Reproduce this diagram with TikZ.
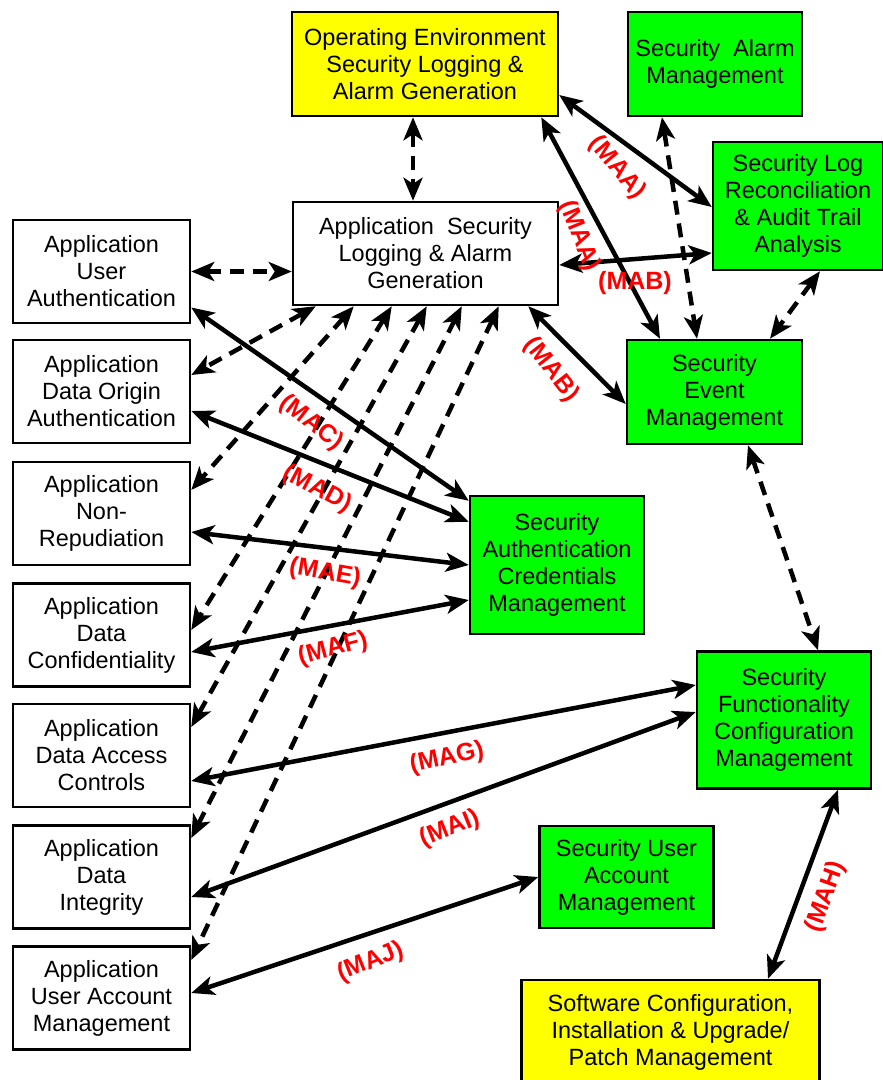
\documentclass[tikz,border=0pt]{standalone}
\usepackage{fontspec}
\setmainfont{Liberation Sans}
\usepackage{xcolor}
\usepackage{tikz}
\usetikzlibrary{arrows.meta}
\definecolor{sgreen}{RGB}{0,255,0}
\definecolor{syellow}{RGB}{255,255,0}
\definecolor{sred}{RGB}{255,0,0}
\tikzset{
  box/.style ={rectangle, draw=black, line width=2.5pt, fill=white,
               align=center, inner sep=2pt, font=\fontsize{23.5}{27}\selectfont},
  grn/.style ={box, fill=sgreen},
  ylw/.style ={box, fill=syellow},
  app/.style ={box, minimum width=177pt, minimum height=103pt},
  ar/.style  ={{Stealth[length=23pt,width=19pt,inset=6pt]}-{Stealth[length=23pt,width=19pt,inset=6pt]},
               line width=4.5pt},
  dar/.style ={ar, dash pattern=on 14pt off 9pt},
  lbl/.style ={font=\fontsize{25}{28}\selectfont\bfseries, text=sred, inner sep=0pt}
}
\begin{document}
\begin{tikzpicture}[x=1pt, y=-1pt]
\useasboundingbox (0,0) rectangle (883,1080);
% security management side
\node[ylw, minimum width=266pt, minimum height=104pt] (oe) at (425,64)
  {Operating Environment\\Security Logging \&\\Alarm Generation};
\node[grn, minimum width=174pt, minimum height=104pt] (sam) at (715,64)
  {Security\ \ Alarm\\Management};
\node[grn, minimum width=170pt, minimum height=128pt] (slr) at (798,206)
  {Security Log\\Reconciliation\\\& Audit Trail\\Analysis};
\node[box, minimum width=265pt, minimum height=103pt] (asl) at (425.5,253.5)
  {Application\ \ Security\\Logging \& Alarm\\Generation};
\node[grn, minimum width=175pt, minimum height=104pt] (sem) at (714.5,392)
  {Security\\Event\\Management};
\node[grn, minimum width=174pt, minimum height=138pt] (sacm) at (557,565)
  {Security\\Authentication\\Credentials\\Management};
\node[grn, minimum width=174pt, minimum height=137pt] (sfcm) at (784,720)
  {Security\\Functionality\\Configuration\\Management};
\node[grn, minimum width=174pt, minimum height=102pt] (suam) at (626.5,877)
  {Security User\\Account\\Management};
\node[ylw, minimum width=298pt, minimum height=104pt] (sw) at (670.5,1032)
  {Software Configuration,\\Installation \& Upgrade/\\Patch Management};
% application column
\node[app] (aua)  at (101.5,271.5) {Application\\User\\Authentication};
\node[app] (adoa) at (101.5,391.5) {Application\\Data Origin\\Authentication};
\node[app] (anr)  at (101.5,513.5) {Application\\Non-\\Repudiation};
\node[app] (adc)  at (101.5,635)   {Application\\Data\\Confidentiality};
\node[app] (adac) at (101.5,755.5) {Application\\Data Access\\Controls};
\node[app] (adi)  at (101.5,877)   {Application\\Data\\Integrity};
\node[app] (auam) at (101.5,998)   {Application\\User Account\\Management};
% dashed links
\draw[dar] ([xshift=-12pt]oe.south) -- ([xshift=-12.5pt]asl.north);
\draw[dar] (aua.east) -- (aua.east -| asl.west);
\draw[dar] ([xshift=-53pt]sam.south) -- ([xshift=-17.5pt]sem.north);
\draw[dar] ([xshift=22pt]slr.south) -- ([xshift=55.5pt]sem.north);
\draw[dar] ([xshift=33.5pt]sem.south) -- ([xshift=34pt]sfcm.north);
\draw[dar] ([xshift=24pt]asl.south west)  -- ([yshift=16.5pt]adoa.east);
\draw[dar] ([xshift=62pt]asl.south west)  -- ([yshift=23.5pt]anr.east);
\draw[dar] ([xshift=100pt]asl.south west) -- ([yshift=5pt]adc.east);
\draw[dar] ([xshift=135pt]asl.south west) -- ([yshift=28.5pt]adac.east);
\draw[dar] ([xshift=170pt]asl.south west) -- ([yshift=39pt]adi.east);
\draw[dar] ([xshift=207pt]asl.south west) -- ([yshift=38pt]auam.east);
% solid links
\draw[ar] ([yshift=-31pt]oe.east) -- ([yshift=-1pt]slr.west);
\draw[ar] ([xshift=-18pt]oe.south east) -- ([xshift=-54.5pt]sem.north);
\draw[ar] ([yshift=-11.5pt]asl.east) -- ([yshift=-47pt]slr.west);
\draw[ar] ([xshift=-31pt]asl.south east) -- ([yshift=-12pt]sem.west);
\draw[ar] ([yshift=-36pt]aua.east) -- ([yshift=-6pt]sacm.north west);
\draw[ar] ([yshift=-19.5pt]adoa.east) -- ([yshift=-27pt]sacm.north west);
\draw[ar] ([yshift=-18.5pt]anr.east) -- (sacm.west);
\draw[ar] ([yshift=-17pt]adc.east) -- ([yshift=-35pt]sacm.west);
\draw[ar] ([yshift=-25.5pt]adac.east) -- ([yshift=35pt]sfcm.west);
\draw[ar] ([yshift=-20pt]adi.east) -- ([yshift=8pt]sfcm.west);
\draw[ar] ([yshift=5pt]auam.east) -- (suam.west);
\draw[ar] ([xshift=54pt]sfcm.south) -- ([xshift=97.5pt]sw.north);
% link labels
\node[lbl, rotate=-50] (lmaa) at (617,168) {(MAA)};
\node[lbl, rotate=-68] (lmaa2) at (579,236) {(MAA)};
\node[lbl] (lmab) at (635,283) {(MAB)};
\node[lbl, rotate=-52] (lmab2) at (551,370) {(MAB)};
\node[lbl, rotate=-38] (lmac) at (311,423) {(MAC)};
\node[lbl, rotate=-28] (lmad) at (317,489) {(MAD)};
\node[lbl, rotate=-10] (lmae) at (325,573) {(MAE)};
\node[lbl, rotate=15] (lmaf) at (333,649) {(MAF)};
\node[lbl, rotate=12] (lmag) at (447,758) {(MAG)};
\node[lbl, rotate=22] (lmai) at (450,829) {(MAI)};
\node[lbl, rotate=22] (lmaj) at (371,962) {(MAJ)};
\node[lbl, rotate=70] (lmah) at (826,897) {(MAH)};
\end{tikzpicture}
\end{document}
